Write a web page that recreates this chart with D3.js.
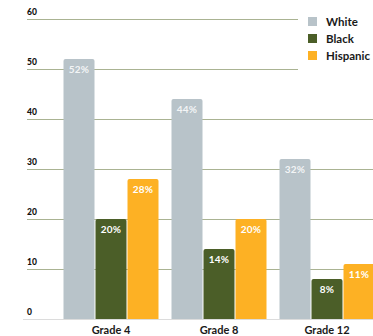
<!DOCTYPE html>
<html>
<head>
<meta charset="utf-8">
<script src="https://cdn.jsdelivr.net/npm/d3@7"></script>
<style>
  html, body { margin: 0; padding: 0; background: #fff; }
  svg { display: block; font-family: Lato, "Open Sans", sans-serif; }
</style>
</head>
<body>
<svg id="chart" width="373" height="336"></svg>
<script>
const grades = ["Grade 4", "Grade 8", "Grade 12"];
const series = ["White", "Black", "Hispanic"];
const whiteVals = [52, 44, 32];
const blackVals = [20, 14, 8];
const hispanicVals = [28, 20, 11];
const tickVals = [0, 10, 20, 30, 40, 50, 60];
const colors = ["#b8c3c9", "#4b5e28", "#fdb124"];

const valuesBySeries = [whiteVals, blackVals, hispanicVals];

const svg = d3.select("#chart");
const W = 373, H = 336;

const y = d3.scaleLinear().domain([0, 60]).range([319, 19]);
const x0 = d3.scaleBand().domain(grades).range([57, 381])
  .paddingInner(12 / 108).paddingOuter(6 / 108);
const x1 = d3.scaleBand().domain(series).range([0, x0.bandwidth()])
  .paddingInner(1 / 32).paddingOuter(1 / 64);
const color = d3.scaleOrdinal().domain(series).range(colors);

// gridlines
svg.append("g").selectAll("line").data(tickVals.filter(d => d > 0)).join("line")
  .attr("x1", 27).attr("x2", W)
  .attr("y1", d => Math.round(y(d)) + 0.5).attr("y2", d => Math.round(y(d)) + 0.5)
  .attr("stroke", "#aab392").attr("stroke-width", 1.1);

// baseline
svg.append("line").attr("x1", 23).attr("x2", W)
  .attr("y1", y(0) + 0.5).attr("y2", y(0) + 0.5)
  .attr("stroke", "#dcdcdc").attr("stroke-width", 1.2);

// tick labels
svg.append("g").selectAll("text").data(tickVals).join("text")
  .attr("x", 27).attr("y", d => y(d) - 4)
  .attr("font-size", 8.5).attr("font-weight", 900).attr("fill", "#111")
  .text(d => d);

// bars
const data = [];
grades.forEach((g, gi) => {
  series.forEach((s, si) => data.push({ g, s, v: valuesBySeries[si][gi] }));
});

function roundTopRect(x, yTop, w, h, r) {
  return `M${x},${yTop + h} V${yTop + r} Q${x},${yTop} ${x + r},${yTop} H${x + w - r} Q${x + w},${yTop} ${x + w},${yTop + r} V${yTop + h} Z`;
}

const bars = svg.append("g");
bars.selectAll("path").data(data).join("path")
  .attr("d", d => {
    const bx = x0(d.g) + x1(d.s);
    const top = y(d.v);
    return roundTopRect(bx, top, x1.bandwidth(), y(0) - top, 2);
  })
  .attr("fill", d => color(d.s));

bars.selectAll("text").data(data).join("text")
  .attr("x", d => x0(d.g) + x1(d.s) + x1.bandwidth() / 2)
  .attr("y", d => y(d.v) + 14)
  .attr("text-anchor", "middle")
  .attr("font-size", 10).attr("font-weight", 700)
  .attr("fill", "#fff").attr("fill-opacity", d => d.s === "White" ? 0.85 : 1)
  .attr("letter-spacing", 0.3)
  .text(d => d.v + "%");

// category labels
svg.append("g").selectAll("text").data(grades).join("text")
  .attr("x", d => x0(d) + x0.bandwidth() / 2)
  .attr("y", 334)
  .attr("text-anchor", "middle")
  .attr("font-size", 11).attr("font-weight", 700).attr("fill", "#1a1a1a")
  .text(d => d);

// legend
const lg = svg.append("g");
lg.append("rect").attr("x", 298).attr("y", 0).attr("width", W - 298).attr("height", 76).attr("fill", "#fff");
const items = lg.selectAll("g").data(series).join("g")
  .attr("transform", (d, i) => `translate(308, ${17 + i * 17})`);
items.append("rect").attr("width", 9).attr("height", 9).attr("fill", d => color(d));
items.append("text").attr("x", 18).attr("y", 8.5)
  .attr("font-size", 11.5).attr("font-weight", 700).attr("fill", "#1a1a1a")
  .text(d => d);
</script>
</body>
</html>
